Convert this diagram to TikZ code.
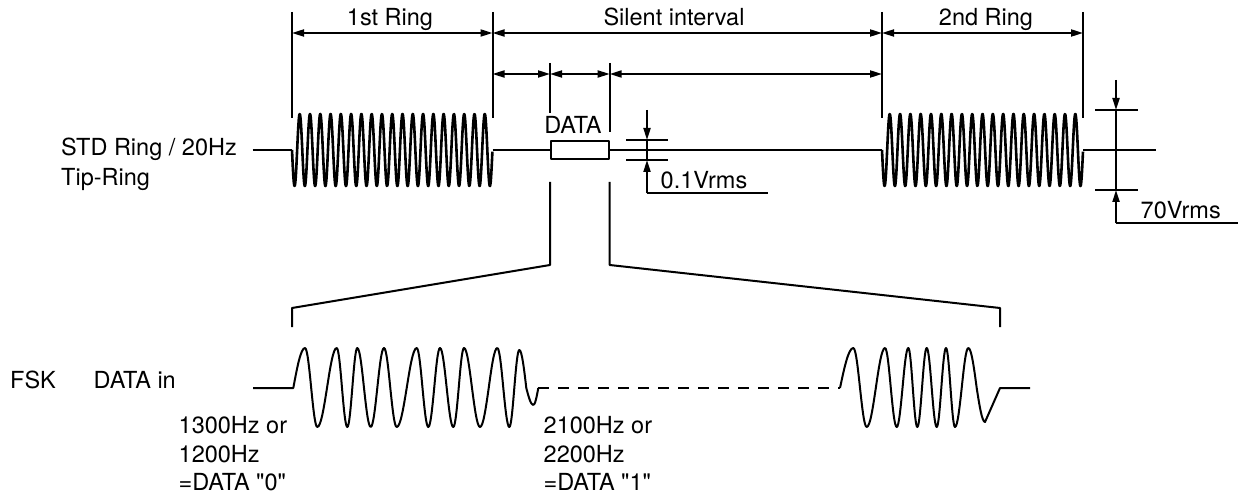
\documentclass[tikz,border=0pt]{standalone}
\usepackage{fontspec}
\setmainfont{TeX Gyre Heros}[Ligatures=TeXOff]
\usetikzlibrary{arrows.meta}

\begin{document}
\begin{tikzpicture}[x=1pt,y=-1pt,line join=round,font=\fontsize{23.5}{28.5}\selectfont,
  >={Triangle[length=12pt,width=7pt]},
  lbl/.style={inner sep=0pt},
  dim/.style={line width=2pt},
  sig/.style={line width=2pt},
  ringw/.style={line width=2.6pt},
  fskw/.style={line width=2pt}]
  \useasboundingbox (0,0) rectangle (1238,494);
  \coordinate (tk) at (0,12); \coordinate (tb) at (0,118);
  \coordinate (t1) at (0,33); \coordinate (t2) at (0,74); \coordinate (t2k) at (0,63);
  \coordinate (stdend) at (252.5,150);
  \coordinate (r1a) at (292,150); \coordinate (r1b) at (492.5,150);
  \coordinate (r2a) at (882,150); \coordinate (r2b) at (1083,150);
  \coordinate (lineend) at (1156,150);
  \node[draw,sig,minimum width=57.7pt,minimum height=18pt,inner sep=0pt,anchor=west] (box) at (550,150) {};
  \node[lbl,anchor=base] (ring1) at (390,26) {1st Ring};
  \node[lbl,anchor=base] (silent) at (674,26) {Silent interval};
  \node[lbl,anchor=base] (ring2) at (986,26) {2nd Ring};
  \node[lbl,anchor=base] (data) at (573,133.5) {DATA};
  \node[lbl,anchor=base west] (std) at (61,156) {STD Ring / 20Hz};
  \node[lbl,anchor=base west] (tipring) at (61,185.5) {Tip-Ring};
  \node[lbl,anchor=base west] (lowv) at (660.5,188.5) {0.1Vrms};
  \node[lbl,anchor=base west] (highv) at (1140.5,218.5) {70Vrms};
  \foreach \p in {r1a,r1b,r2a,r2b} \draw[dim] (\p |- tk) -- (\p |- tb);
  \draw[dim,<->] (r1a |- t1) -- (r1b |- t1);
  \draw[dim,<->] (r1b |- t1) -- (r2a |- t1);
  \draw[dim,<->] (r2a |- t1) -- (r2b |- t1);
  \draw[dim] (box.west |- t2k) -- ++(0,50);
  \draw[dim] (box.east |- t2k) -- ++(0,69);
  \draw[dim,<->] (r1b |- t2) -- (box.west |- t2);
  \draw[dim,<->] (box.west |- t2) -- (box.east |- t2);
  \draw[dim,<->] (box.east |- t2) -- (r2a |- t2);
  \draw[sig] (stdend) -- (r1a);
  \draw[sig] (r1b) -- (box.west);
  \draw[sig] (box.east) -- (r2a);
  \draw[sig] (r2b) -- (lineend);
  \draw[ringw,shift={(r1a)}] plot[domain=0:19.5,samples=900] ({10.28*\x},{36*sin(360*\x)});
  \draw[ringw,shift={(r2a)}] plot[domain=0:19.5,samples=900] ({10.31*\x},{36*sin(360*\x)});
  \draw[dim] (626,140) -- (668.3,140) (626,160) -- (668.3,160);
  \draw[dim,->] (647,110) -- (647,140);
  \draw[dim] (647,140) -- (647,160);
  \draw[dim,->] (647,193.3) -- (647,160);
  \draw[dim] (647,193.3) -- (768.3,193.3);
  \draw[dim] (1095,110) -- (1137.7,110) (1095,190) -- (1137.7,190);
  \draw[dim,->] (1116,80) -- (1116,110);
  \draw[dim] (1116,110) -- (1116,190);
  \draw[dim,->] (1116,223.3) -- (1116,190);
  \draw[dim] (1116,223.3) -- (1238,223.3);
  \draw[sig] (box.west |- 0,182) -- (box.west |- 0,265) -- (292,308) -- (292,327);
  \draw[sig] (box.east |- 0,182) -- (box.east |- 0,265) -- (1000,308) -- (1000,327);
  \node[lbl,anchor=base west] (fsk) at (10,388.5) {FSK};
  \node[lbl,anchor=base west] (datain) at (93.5,388.5) {DATA in};
  \node[lbl,anchor=north west,align=left] (zero) at (178.5,416.5) {1300Hz or\\1200Hz\\=DATA "0"};
  \node[lbl,anchor=north west,align=left] (one) at (543.5,416.5) {2100Hz or\\2200Hz\\=DATA "1"};
  \coordinate (fskin) at (253,388); \coordinate (fskA) at (293.3,388);
  \coordinate (fskB) at (538.3,388); \coordinate (fskC) at (840,388);
  \coordinate (fskD) at (1000,388); \coordinate (fskout) at (1030,388);
  \draw[fskw] (fskin) -- (fskA)
    \foreach \e/\v/\z in {305/348/311.2, 317.3/427/327, 336.7/348/342, 347.3/427/352.3,
      357.3/348/364, 370.7/427/377.3, 384/348/390.3, 396.7/427/406.7, 416.7/348/422.5,
      428.3/427/434.2, 440/348/446.7, 453.3/427/458.7, 464/348/472, 480/427/488.7,
      497.3/348/503.3, 509.3/427/514.3, 519.3/350/526.3, 533.3/405/538.3}
    { sin (\e,\v) cos (\z,388) };
  \draw[fskw,dash pattern=on 11pt off 9pt] (fskB) -- (fskC);
  \draw[fskw] (fskC)
    \foreach \e/\v/\z in {853.3/348/860, 866.7/427/875.8, 885/348/890.8, 896.7/427/902.5,
      908.3/348/912.8, 917.3/427/922, 926.7/348/931.7, 936.7/427/941.3, 946/348/950.5,
      955/427/961.7, 968.3/348/976.7}
    { sin (\e,\v) cos (\z,388) }
    sin (985,422) -- (fskD) -- (fskout);
\end{tikzpicture}
\end{document}
